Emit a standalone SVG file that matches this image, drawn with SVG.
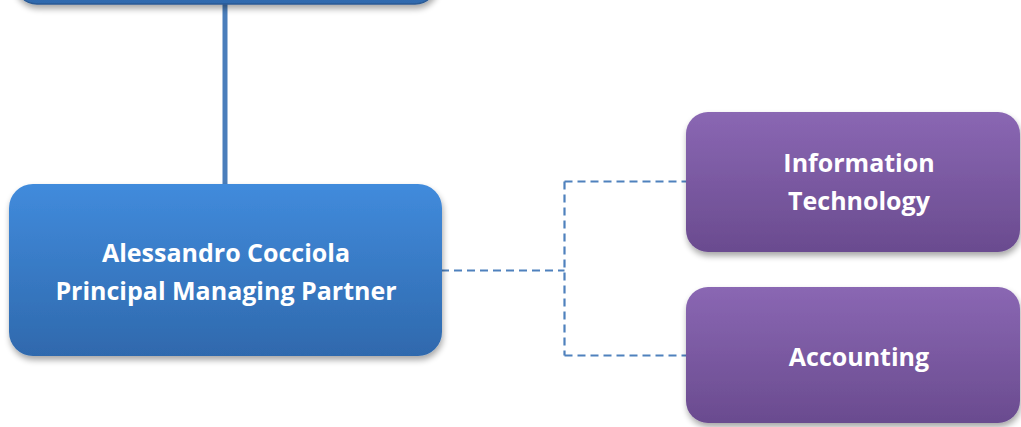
<svg xmlns="http://www.w3.org/2000/svg" width="1021" height="427" viewBox="0 0 1021 427">
<style>
.lbl{font-family:"Open Sans","Noto Sans","Liberation Sans",sans-serif;font-weight:bold;fill:#ffffff;text-anchor:middle;font-size:25px}
.dash{fill:none;stroke:#4f81bd;stroke-width:2.2;stroke-dasharray:8 5}
</style>
<defs>
<linearGradient id="gBlue" x1="0" y1="0" x2="0" y2="1">
<stop offset="0" stop-color="#418bdc"/>
<stop offset="1" stop-color="#2f69ad"/>
</linearGradient>
<linearGradient id="gPurple" x1="0" y1="0" x2="0" y2="1">
<stop offset="0" stop-color="#8a67b3"/>
<stop offset="1" stop-color="#6a4b8f"/>
</linearGradient>
<filter id="sh" x="-10%" y="-10%" width="120%" height="130%">
<feGaussianBlur in="SourceAlpha" stdDeviation="3"/>
<feOffset dx="1" dy="4" result="b"/>
<feComponentTransfer><feFuncA type="linear" slope="0.35"/></feComponentTransfer>
<feMerge><feMergeNode/><feMergeNode in="SourceGraphic"/></feMerge>
</filter>
</defs>
<g id="connectors">
<line x1="225" y1="4" x2="225" y2="184" stroke="#4a7ebb" stroke-width="5"/>
<path class="dash" d="M441 270.5 H564.5 M564.5 181.5 V355.5 M564.5 181.5 H686 M564.5 355.5 H686"/>
</g>
<g id="top-node">
<rect x="15" y="-80" width="422" height="84" rx="22" fill="url(#gBlue)" stroke="#2b5a94" stroke-width="1.5" filter="url(#sh)"/>
</g>
<g id="principal">
<rect x="9" y="184" width="433" height="172" rx="24" fill="url(#gBlue)" filter="url(#sh)"/>
<text class="lbl" x="226" y="262">Alessandro Cocciola</text>
<text class="lbl" x="226" y="300">Principal Managing Partner</text>
</g>
<g id="it">
<rect x="686" y="112" width="334" height="140" rx="22" fill="url(#gPurple)" filter="url(#sh)"/>
<text class="lbl" x="859" y="172">Information</text>
<text class="lbl" x="859" y="210">Technology</text>
</g>
<g id="accounting">
<rect x="686" y="287" width="334" height="136" rx="22" fill="url(#gPurple)" filter="url(#sh)"/>
<text class="lbl" x="859" y="366">Accounting</text>
</g>
</svg>
